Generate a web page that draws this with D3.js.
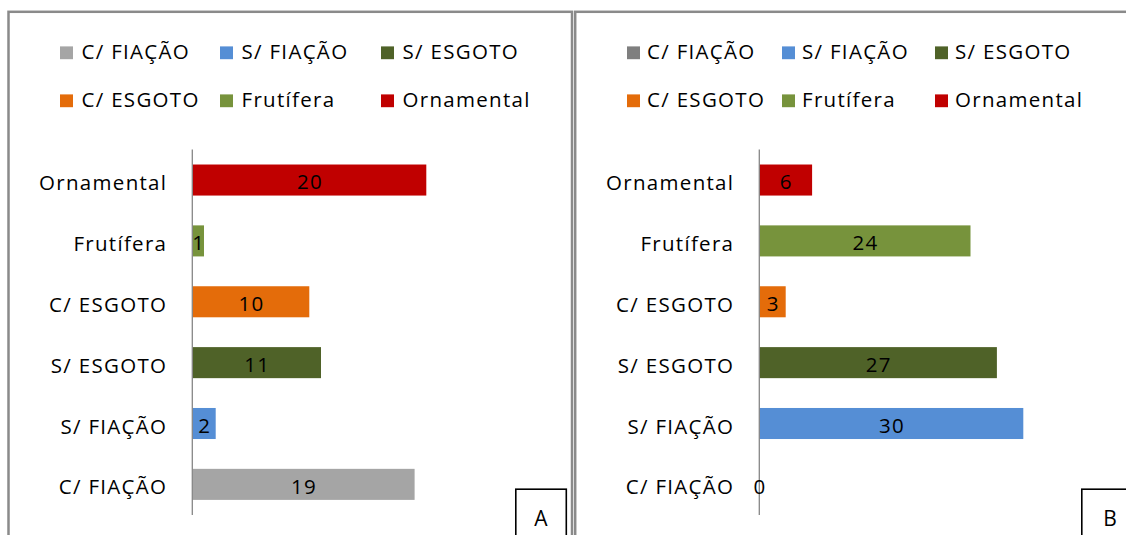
<!DOCTYPE html>
<html>
<head>
<meta charset="utf-8">
<script src="https://cdn.jsdelivr.net/npm/d3@7"></script>
<style>
  html, body { margin: 0; padding: 0; background: #fff; }
  svg { display: block; }
  text { font-family: "Open Sans", "Noto Sans", sans-serif; fill: #000; }
</style>
</head>
<body>
<svg id="chart" width="1126" height="535"></svg>
<script>
// Categories, in legend order (bottom-to-top on the bar axis)
const categories = ["C/ FIAÇÃO", "S/ FIAÇÃO", "S/ ESGOTO", "C/ ESGOTO", "Frutífera", "Ornamental"];
// Counts for panel A and panel B
const valuesA = [19, 2, 11, 10, 1, 20];
const valuesB = [0, 30, 27, 3, 24, 6];
// Bar fills per category
const barColors = ["#A5A5A5", "#558ED5", "#4F6228", "#E46C0A", "#77933C", "#C00000"];
// Legend swatch fills per panel (panel B shows a darker grey for C/ FIAÇÃO)
const legendColorsA = ["#A5A5A5", "#558ED5", "#4F6228", "#E46C0A", "#77933C", "#C00000"];
const legendColorsB = ["#7F7F7F", "#558ED5", "#4F6228", "#E46C0A", "#77933C", "#C00000"];
const panelLetters = ["A", "B"];

const svg = d3.select("#chart");
const FONT = 20.5;
const LS = 1.3;

const panels = [
  { x0: 8.5, x1: 572, axisX: 192.3, xMax: 25, plotW: 292.5, legendCols: [60, 220, 381], textGap: 21.5,
    values: valuesA, legendColors: legendColorsA, letter: panelLetters[0], boxX: 515.8, boxW: 50.5, letterX: 541 },
  { x0: 575.2, x1: 1140, axisX: 759.3, xMax: 35, plotW: 308, legendCols: [627, 782, 935], textGap: 20,
    values: valuesB, legendColors: legendColorsB, letter: panelLetters[1], boxX: 1081.8, boxW: 60, letterX: 1110 }
];

panels.forEach(p => {
  const g = svg.append("g");

  // Panel frame (bottom runs past the visible area)
  g.append("rect")
    .attr("x", p.x0).attr("y", 11.8)
    .attr("width", p.x1 - p.x0).attr("height", 560)
    .attr("fill", "none").attr("stroke", "#8A8A8A").attr("stroke-width", 2.5);

  // Legend: two rows of three
  categories.forEach((c, i) => {
    const col = i % 3, row = Math.floor(i / 3);
    const baseY = row === 0 ? 59.2 : 107.2;
    const mx = p.legendCols[col];
    g.append("rect")
      .attr("x", mx).attr("y", baseY - 12.8)
      .attr("width", 13).attr("height", 12.8)
      .attr("fill", p.legendColors[i]);
    g.append("text")
      .attr("x", mx + p.textGap).attr("y", baseY)
      .attr("font-size", FONT).attr("letter-spacing", LS)
      .text(c);
  });

  // Scales
  const y = d3.scaleBand()
    .domain(categories.slice().reverse())
    .range([149.6, 514.8])
    .paddingInner(0.49)
    .paddingOuter(0.245);
  const x = d3.scaleLinear().domain([0, p.xMax]).range([p.axisX, p.axisX + p.plotW]);

  // Bars
  g.selectAll("rect.bar")
    .data(categories.map((c, i) => ({ c, v: p.values[i], color: barColors[i] })))
    .join("rect")
    .attr("class", "bar")
    .attr("x", x(0))
    .attr("y", d => y(d.c))
    .attr("width", d => x(d.v) - x(0))
    .attr("height", y.bandwidth())
    .attr("fill", d => d.color);

  // Category axis line
  g.append("line")
    .attr("x1", p.axisX).attr("x2", p.axisX)
    .attr("y1", 149.6).attr("y2", 515)
    .attr("stroke", "#868686").attr("stroke-width", 1.3);

  // Category labels
  g.selectAll("text.cat")
    .data(categories)
    .join("text")
    .attr("class", "cat")
    .attr("x", p.axisX - 25)
    .attr("y", c => y(c) + y.bandwidth() / 2 + 10)
    .attr("text-anchor", "end")
    .attr("font-size", FONT).attr("letter-spacing", LS)
    .text(c => c);

  // Value labels, centred on each bar
  g.selectAll("text.val")
    .data(categories.map((c, i) => ({ c, v: p.values[i] })))
    .join("text")
    .attr("class", "val")
    .attr("x", d => x(d.v / 2) + LS / 2)
    .attr("y", d => y(d.c) + y.bandwidth() / 2 + 9.4)
    .attr("text-anchor", "middle")
    .attr("font-size", FONT).attr("letter-spacing", LS)
    .text(d => d.v);

  // Panel letter box
  g.append("rect")
    .attr("x", p.boxX).attr("y", 489.2)
    .attr("width", p.boxW).attr("height", 80)
    .attr("fill", "#fff").attr("stroke", "#000").attr("stroke-width", 1.6);
  g.append("text")
    .attr("x", p.letterX)
    .attr("y", 525.5)
    .attr("text-anchor", "middle")
    .attr("font-size", 21)
    .text(p.letter);
});
</script>
</body>
</html>
